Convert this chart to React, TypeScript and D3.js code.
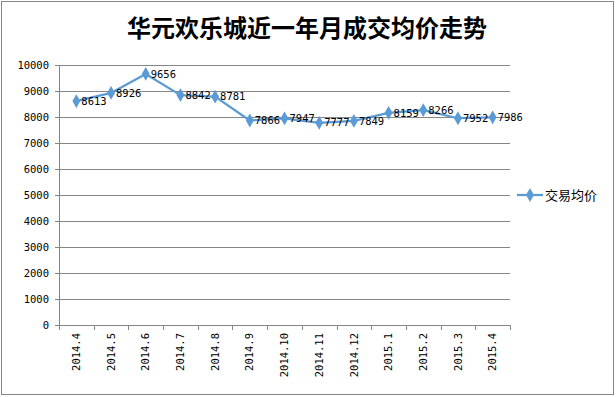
import * as React from 'react';
import { useEffect, useRef } from 'react';
import { select, scaleBand, scaleLinear, line, symbol, symbolDiamond } from 'd3';

const title = '华元欢乐城近一年月成交均价走势';
const seriesName = '交易均价';
const months = ['2014.4', '2014.5', '2014.6', '2014.7', '2014.8', '2014.9', '2014.10', '2014.11', '2014.12', '2015.1', '2015.2', '2015.3', '2015.4'];
const prices = [8613, 8926, 9656, 8842, 8781, 7866, 7947, 7777, 7849, 8159, 8266, 7952, 7986];
const yTicks = [0, 1000, 2000, 3000, 4000, 5000, 6000, 7000, 8000, 9000, 10000];

const LINE = '#5b9bd5';
const GRID = '#868686';
const CJK = '"Noto Sans CJK SC", sans-serif';
const MONO = '"DejaVu Sans Mono", "Liberation Mono", monospace';

export default function App() {
    const ref = useRef<SVGSVGElement>(null);

    useEffect(() => {
        const svg = select(ref.current);
        svg.selectAll('*').remove();

        const left = 59;
        const right = 510;
        const top = 65;
        const bottom = 325;

        const x = scaleBand<string>().domain(months).range([left, right]);
        const y = scaleLinear().domain([0, 10000]).range([bottom, top]);
        const cx = (m: string) => (x(m) as number) + x.bandwidth() / 2;

        // outer frame
        svg.append('rect')
            .attr('x', 1.5).attr('y', 1.5)
            .attr('width', 612).attr('height', 393)
            .attr('fill', '#fff')
            .attr('stroke', GRID);

        svg.append('text')
            .attr('x', 307).attr('y', 37)
            .attr('text-anchor', 'middle')
            .attr('font-family', CJK)
            .attr('font-weight', 'bold')
            .attr('font-size', 24)
            .text(title);

        // gridlines + y labels
        const g = svg.append('g');
        yTicks.forEach((t) => {
            const ty = Math.round(y(t)) + 0.5;
            if (t > 0) {
                g.append('line')
                    .attr('x1', left).attr('x2', right)
                    .attr('y1', ty).attr('y2', ty)
                    .attr('stroke', GRID);
            }
            g.append('line')
                .attr('x1', left - 4).attr('x2', left)
                .attr('y1', ty).attr('y2', ty)
                .attr('stroke', GRID);
            g.append('text')
                .attr('x', 49).attr('y', y(t))
                .attr('dy', '0.35em')
                .attr('text-anchor', 'end')
                .attr('font-family', MONO)
                .attr('font-size', 10.5)
                .text(t);
        });

        // axes
        g.append('line')
            .attr('x1', left + 0.5).attr('x2', left + 0.5)
            .attr('y1', top).attr('y2', bottom)
            .attr('stroke', GRID);
        g.append('line')
            .attr('x1', left).attr('x2', right)
            .attr('y1', bottom + 0.5).attr('y2', bottom + 0.5)
            .attr('stroke', GRID);
        months.concat(['end']).forEach((m, i) => {
            const tx = Math.round(left + i * x.step()) + 0.5;
            g.append('line')
                .attr('x1', tx).attr('x2', tx)
                .attr('y1', bottom).attr('y2', bottom + 5)
                .attr('stroke', GRID);
        });
        months.forEach((m) => {
            g.append('text')
                .attr('transform', `translate(${cx(m)}, ${bottom + 8}) rotate(-90)`)
                .attr('dy', '0.35em')
                .attr('text-anchor', 'end')
                .attr('font-family', MONO)
                .attr('font-size', 10.5)
                .text(m);
        });

        const pts = months.map((m, i) => ({ m, v: prices[i] }));
        const path = line<{ m: string; v: number }>()
            .x((d) => cx(d.m))
            .y((d) => y(d.v));

        g.append('path')
            .datum(pts)
            .attr('fill', 'none')
            .attr('stroke', LINE)
            .attr('stroke-width', 2.25)
            .attr('stroke-linejoin', 'round')
            .attr('d', path);

        const diamond = symbol().type(symbolDiamond).size(55);
        pts.forEach((d) => {
            g.append('path')
                .attr('transform', `translate(${cx(d.m)}, ${y(d.v)})`)
                .attr('d', diamond() as string)
                .attr('fill', LINE);
        });
        pts.forEach((d) => {
            g.append('text')
                .attr('x', cx(d.m) + 5).attr('y', y(d.v))
                .attr('dy', '0.35em')
                .attr('font-family', MONO)
                .attr('font-size', 10.5)
                .text(d.v);
        });

        // legend
        const ly = 195;
        svg.append('line')
            .attr('x1', 517).attr('x2', 543)
            .attr('y1', ly).attr('y2', ly)
            .attr('stroke', LINE).attr('stroke-width', 2.25);
        svg.append('path')
            .attr('transform', `translate(530, ${ly})`)
            .attr('d', diamond() as string)
            .attr('fill', LINE);
        svg.append('text')
            .attr('x', 545).attr('y', ly)
            .attr('dy', '0.35em')
            .attr('font-family', CJK)
            .attr('font-size', 13)
            .text(seriesName);
    }, []);

    return <svg ref={ref} width={616} height={397} style={{ position: 'absolute', left: 0, top: 0 }} />;
}
